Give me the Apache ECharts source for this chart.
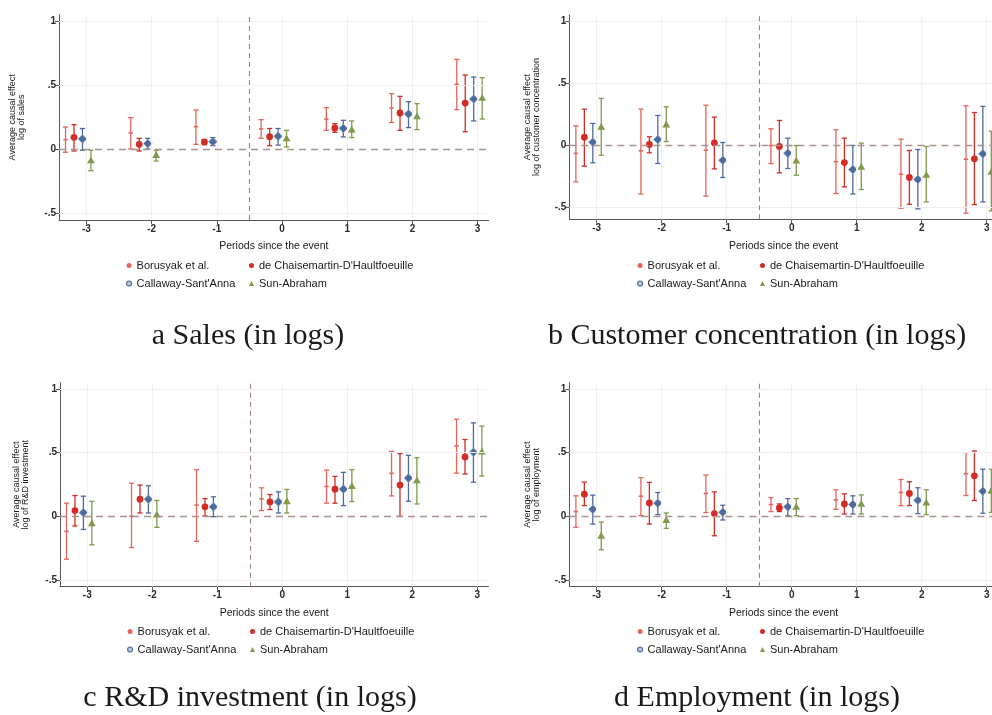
<!DOCTYPE html>
<html>
<head>
<meta charset="utf-8">
<script src="https://cdn.jsdelivr.net/npm/echarts@6/dist/echarts.min.js"></script>
<style>
html,body{margin:0;padding:0;background:#fff;}
#chart{width:992px;height:715px;}
</style>
</head>
<body>
<div id="chart"></div>
<script>
// ---------- DATA ----------
const periods = [-3, -2, -1, 0, 1, 2, 3];
const estimators = ["Borusyak et al.", "de Chaisemartin-D'Haultfoeuille", "Callaway-Sant'Anna", "Sun-Abraham"];
const yTicks = [-0.5, 0, 0.5, 1];
const xTicks = [-3, -2, -1, 0, 1, 2, 3];
const eventLine = -0.5;
const captions = ["a Sales (in logs)", "b Customer concentration (in logs)", "c R&D investment (in logs)", "d Employment (in logs)"];
const yTitles = ["Average causal effect\nlog of sales", "Average causal effect\nlog of customer concentration",
                 "Average causal effect\nlog of R&D investment", "Average causal effect\nlog of employment"];
const xTitle = "Periods since the event";

// each entry: [estimate, lower, upper] per period (-3..3); null = not estimated
const salesBorusyak = [[0.073,-0.026,0.172],[0.125,0.0,0.245],[0.174,0.036,0.305],[0.156,0.083,0.229],[0.234,0.146,0.323],[0.32,0.208,0.432],[0.505,0.307,0.70]];
const salesDCDH     = [[0.091,-0.016,0.19],[0.036,-0.016,0.083],[0.055,0.034,0.073],[0.096,0.026,0.16],[0.164,0.13,0.198],[0.281,0.146,0.411],[0.359,0.135,0.578]];
const salesCS       = [[0.078,-0.01,0.16],[0.042,0.0,0.083],[0.057,0.026,0.089],[0.099,0.03,0.16],[0.161,0.094,0.224],[0.273,0.167,0.37],[0.39,0.219,0.5625]];
const salesSA       = [[-0.089,-0.17,-0.01],[-0.047,-0.094,-0.01],null,[0.083,0.016,0.146],[0.151,0.089,0.219],[0.255,0.151,0.354],[0.40,0.234,0.557]];

const custBorusyak = [[-0.064,-0.292,0.158],[-0.043,-0.39,0.292],[-0.038,-0.407,0.324],[0.0,-0.145,0.134],[-0.131,-0.386,0.126],[-0.231,-0.504,0.051],[-0.11,-0.544,0.319]];
const custDCDH     = [[0.067,-0.166,0.292],[0.008,-0.059,0.07],[0.021,-0.188,0.228],[-0.008,-0.22,0.201],[-0.137,-0.332,0.059],[-0.257,-0.472,-0.04],[-0.107,-0.475,0.265]];
const custCS       = [[0.027,-0.139,0.177],[0.048,-0.145,0.241],[-0.118,-0.257,0.024],[-0.062,-0.185,0.059],[-0.193,-0.39,0.0],[-0.273,-0.509,-0.032],[-0.067,-0.453,0.314]];
const custSA       = [[0.15,-0.078,0.378],[0.169,0.032,0.311],null,[-0.121,-0.239,0.0],[-0.172,-0.354,0.019],[-0.236,-0.453,-0.008],[-0.212,-0.525,0.115]];

const rdBorusyak = [[-0.118,-0.337,0.103],[0.0,-0.245,0.26],[0.087,-0.197,0.366],[0.137,0.045,0.224],[0.234,0.103,0.363],[0.337,0.16,0.51],[0.553,0.339,0.763]];
const rdDCDH     = [[0.045,-0.076,0.163],[0.134,0.026,0.245],[0.074,0.003,0.139],[0.113,0.053,0.171],[0.213,0.103,0.313],[0.245,0.0,0.492],[0.466,0.332,0.603]];
const rdCS       = [[0.029,-0.103,0.158],[0.134,0.026,0.24],[0.074,-0.003,0.153],[0.113,0.026,0.192],[0.213,0.084,0.345],[0.30,0.118,0.479],[0.503,0.268,0.734]];
const rdSA       = [[-0.055,-0.224,0.118],[0.013,-0.087,0.124],null,[0.118,0.026,0.211],[0.237,0.116,0.366],[0.282,0.097,0.46],[0.508,0.316,0.708]];

const empBorusyak = [[0.037,-0.087,0.161],[0.158,0.005,0.303],[0.179,0.029,0.324],[0.092,0.037,0.147],[0.129,0.055,0.208],[0.187,0.084,0.289],[0.334,0.163,0.50]];
const empDCDH     = [[0.174,0.084,0.268],[0.105,-0.061,0.266],[0.021,-0.153,0.192],[0.066,0.037,0.097],[0.097,0.018,0.176],[0.179,0.084,0.271],[0.318,0.124,0.513]];
const empCS       = [[0.055,-0.061,0.166],[0.103,0.013,0.187],[0.032,-0.029,0.087],[0.074,0.005,0.139],[0.092,0.018,0.161],[0.126,0.021,0.224],[0.197,0.024,0.37]];
const empSA       = [[-0.153,-0.263,-0.045],[-0.029,-0.095,0.026],null,[0.074,0.005,0.139],[0.097,0.018,0.168],[0.108,0.013,0.208],[0.20,0.03,0.37]];

const panelData = [
  [salesBorusyak, salesDCDH, salesCS, salesSA],
  [custBorusyak, custDCDH, custCS, custSA],
  [rdBorusyak, rdDCDH, rdCS, rdSA],
  [empBorusyak, empDCDH, empCS, empSA]
];

// ---------- STYLE / LAYOUT ----------
const offsets = [-0.32, -0.19, -0.06, 0.07];
const colors = ['#e2665d', '#d42b25', '#4d6a9c', '#7e9a4a'];
const markerKinds = ['dot', 'circle', 'diamond', 'triangle'];
const xMin = -3.42, xMax = 3.17;
const panels = [
  {left: 59,    top: 14.6,  width: 429.7, height: 205.4, yMin: -0.555, yMax: 1.05, nameGap: 33, legTop: 259, legL: 126, legR: 249, capX: 248, capY: 336},
  {left: 569.4, top: 14.8,  width: 428.4, height: 204.5, yMin: -0.593, yMax: 1.05, nameGap: 28, legTop: 259, legL: 637, legR: 760, capX: 757, capY: 336},
  {left: 60,    top: 382.6, width: 428.4, height: 204.1, yMin: -0.553, yMax: 1.05, nameGap: 30, legTop: 625, legL: 127, legR: 250, capX: 250, capY: 698},
  {left: 569.4, top: 382.6, width: 428.4, height: 204.1, yMin: -0.553, yMax: 1.05, nameGap: 28, legTop: 625, legL: 637, legR: 760, capX: 757, capY: 698}
];
const axisColor = '#5e5454';
const labelFont = 'Liberation Sans, Arial, sans-serif';

function makeRender(ei) {
  const color = colors[ei];
  const kind = markerKinds[ei];
  return function (params, api) {
    const x = api.value(0);
    const pt = api.coord([x, api.value(1)]);
    const lo = api.coord([x, api.value(2)]);
    const hi = api.coord([x, api.value(3)]);
    const cap = 2.6;
    const ls = {stroke: color, lineWidth: 1.3};
    const children = [
      {type: 'line', shape: {x1: lo[0], y1: lo[1], x2: hi[0], y2: hi[1]}, style: ls},
      {type: 'line', shape: {x1: lo[0] - cap, y1: lo[1], x2: lo[0] + cap, y2: lo[1]}, style: ls},
      {type: 'line', shape: {x1: hi[0] - cap, y1: hi[1], x2: hi[0] + cap, y2: hi[1]}, style: ls}
    ];
    if (kind === 'dot') {
      children.push({type: 'line', shape: {x1: pt[0] - 2.2, y1: pt[1], x2: pt[0] + 2.2, y2: pt[1]}, style: {stroke: color, lineWidth: 1.6}});
    } else if (kind === 'circle') {
      children.push({type: 'circle', shape: {cx: pt[0], cy: pt[1], r: 3.4}, style: {fill: color}});
    } else if (kind === 'diamond') {
      const s = 4.3;
      children.push({type: 'polygon', shape: {points: [[pt[0], pt[1] - s], [pt[0] + s, pt[1]], [pt[0], pt[1] + s], [pt[0] - s, pt[1]]]},
        style: {fill: color, stroke: '#8aa0c4', lineWidth: 0.8}});
    } else {
      const s = 3.9;
      children.push({type: 'polygon', shape: {points: [[pt[0], pt[1] - s], [pt[0] + s, pt[1] + s * 0.75], [pt[0] - s, pt[1] + s * 0.75]]},
        style: {fill: color}});
    }
    return {type: 'group', children: children};
  };
}

const grids = [], xAxes = [], yAxes = [], series = [], legends = [], graphics = [];
const fmtY = v => (v === 0 ? '0' : String(v).replace('0.', '.'));

const legendIcon = [
  {name: estimators[0], icon: 'circle', itemStyle: {color: colors[0]}},
  {name: estimators[1], icon: 'circle', itemStyle: {color: colors[1]}},
  {name: estimators[2], icon: 'circle', itemStyle: {color: '#b9c6de', borderColor: colors[2], borderWidth: 1.2}},
  {name: estimators[3], icon: 'triangle', itemStyle: {color: colors[3]}}
];

panels.forEach((p, pi) => {
  grids.push({left: p.left, top: p.top, width: p.width, height: p.height, containLabel: false, outerBoundsMode: 'none'});
  xAxes.push({
    type: 'value', gridIndex: pi, min: xMin, max: xMax,
    name: xTitle, nameLocation: 'middle', nameGap: 21, nameMoveOverlap: false,
    nameTextStyle: {fontFamily: labelFont, fontSize: 10.5, color: '#1a1a1a'},
    axisLine: {show: true, onZero: false, lineStyle: {color: axisColor, width: 1}},
    axisTick: {show: true, length: 4, customValues: xTicks, lineStyle: {color: axisColor}},
    axisLabel: {customValues: xTicks, margin: 4, fontFamily: labelFont, fontSize: 10, fontWeight: 'bold', color: '#2a2a2a', formatter: v => String(v)},
    splitLine: {show: false}
  });
  yAxes.push({
    type: 'value', gridIndex: pi, min: p.yMin, max: p.yMax,
    name: yTitles[pi], nameLocation: 'middle', nameGap: p.nameGap, nameMoveOverlap: false,
    nameTextStyle: {fontFamily: labelFont, fontSize: 9, lineHeight: 9, color: '#1a1a1a', align: 'center'},
    axisLine: {show: true, onZero: false, lineStyle: {color: axisColor, width: 1}},
    axisTick: {show: true, length: 4, customValues: yTicks, lineStyle: {color: axisColor}},
    axisLabel: {customValues: yTicks, margin: 3, fontFamily: labelFont, fontSize: 10, fontWeight: 'bold', color: '#2a2a2a', formatter: fmtY},
    splitLine: {show: false}
  });
  // reference lines & faint grid
  const gridLines = [];
  xTicks.forEach(v => gridLines.push({xAxis: v, lineStyle: {color: '#efefef', width: 1, type: 'solid'}}));
  yTicks.filter(v => v !== 0).forEach(v => gridLines.push({yAxis: v, lineStyle: {color: '#efefef', width: 1, type: 'solid'}}));
  gridLines.push({yAxis: 0, lineStyle: {color: '#a89292', width: 1.3, type: [7, 5]}});
  gridLines.push({xAxis: eventLine, lineStyle: {color: '#a47f7f', width: 1.1, type: [5, 4]}});
  series.push({
    type: 'line', xAxisIndex: pi, yAxisIndex: pi, data: [], silent: true, z: 1,
    markLine: {silent: true, symbol: ['none', 'none'], label: {show: false}, animation: false, data: gridLines}
  });
  estimators.forEach((name, ei) => {
    const arr = panelData[pi][ei];
    const data = [];
    arr.forEach((d, k) => { if (d) data.push([periods[k] + offsets[ei], d[0], d[1], d[2]]); });
    series.push({
      type: 'custom', name: name, xAxisIndex: pi, yAxisIndex: pi, z: 3,
      renderItem: makeRender(ei), data: data, encode: {x: 0, y: [1, 2, 3]}, animation: false,
      itemStyle: {color: colors[ei]}
    });
  });
  const legCommon = {orient: 'vertical', top: p.legTop, itemWidth: 5, itemHeight: 5, itemGap: 5, padding: 0,
    selectedMode: false, textStyle: {fontFamily: labelFont, fontSize: 11, color: '#1a1a1a', lineHeight: 13}};
  legends.push(Object.assign({left: p.legL, data: [legendIcon[0], legendIcon[2]]}, legCommon));
  legends.push(Object.assign({left: p.legR, data: [legendIcon[1], legendIcon[3]]}, legCommon));
  graphics.push({type: 'text', x: p.capX, y: p.capY,
    style: {text: captions[pi], fontFamily: 'Liberation Serif, Times New Roman, serif', fontSize: 30, fill: '#1a1a1a', align: 'center', verticalAlign: 'middle'}});
});

const chart = echarts.init(document.getElementById('chart'), null, {renderer: 'canvas'});
chart.setOption({
  backgroundColor: '#ffffff',
  animation: false,
  grid: grids, xAxis: xAxes, yAxis: yAxes, series: series, legend: legends, graphic: graphics
});
</script>
</body>
</html>
